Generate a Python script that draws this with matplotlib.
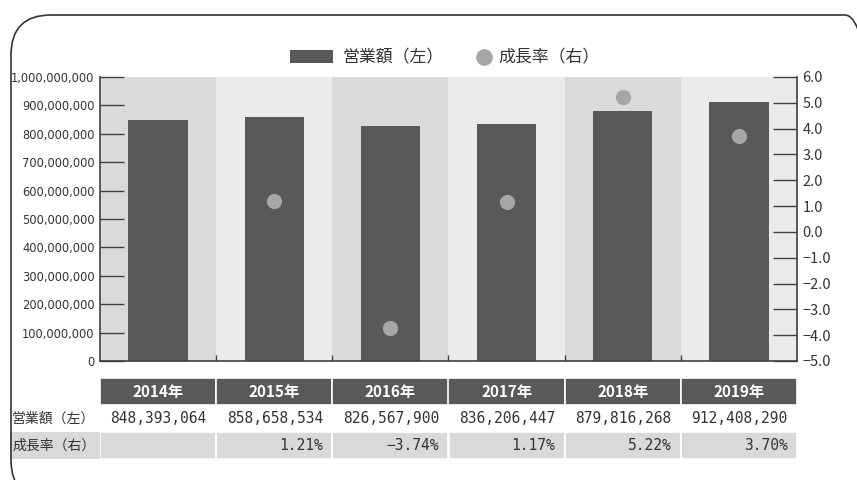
import matplotlib
matplotlib.use("Agg")
import matplotlib.pyplot as plt
from matplotlib.patches import FancyBboxPatch, Rectangle
from matplotlib.lines import Line2D
from matplotlib.ticker import FuncFormatter

plt.rcParams['font.family'] = ['Noto Sans CJK JP', 'DejaVu Sans']

years = ["2014年", "2015年", "2016年", "2017年", "2018年", "2019年"]
sales = [848393064, 858658534, 826567900, 836206447, 879816268, 912408290]
growth = [None, 1.21, -3.74, 1.17, 5.22, 3.70]
left_ticks = [0, 100000000, 200000000, 300000000, 400000000, 500000000,
              600000000, 700000000, 800000000, 900000000, 1000000000]
right_ticks = [-5.0, -4.0, -3.0, -2.0, -1.0, 0.0, 1.0, 2.0, 3.0, 4.0, 5.0, 6.0]
label_sales = "営業額（左）"
label_growth = "成長率（右）"

BAR = "#595959"
DOT = "#a6a6a6"
BAND_D = "#dadada"
BAND_L = "#ebebeb"
SPINE = "#404040"
TXT = "#333333"

W, H = 857, 480
fig = plt.figure(figsize=(W / 100, H / 100), dpi=100)

# rounded frame
frame = FancyBboxPatch((11, -20), 874, 480 - 15 + 20,
                       boxstyle="round,pad=0,rounding_size=40",
                       transform=None, fill=False, edgecolor="#333333", linewidth=1.2)
fig.patches.append(frame)

L, R, T, B = 100, 797, 77, 361
ax = fig.add_axes([L / W, 1 - B / H, (R - L) / W, (B - T) / H])
n = len(years)
xs = list(range(n))
for i in xs:
    ax.axvspan(i - 0.5, i + 0.5, color=BAND_D if i % 2 == 0 else BAND_L, zorder=0, lw=0)
bars = ax.bar(xs, sales, width=0.51, color=BAR, zorder=2, label=label_sales)
ax.set_xlim(-0.5, n - 0.5)
ax.set_ylim(0, 1000000000)
ax.set_yticks(left_ticks)
ax.yaxis.set_major_formatter(FuncFormatter(lambda v, p: f"{int(v):,}"))
ax.tick_params(axis='y', direction='in', length=17, width=1, color=SPINE,
               labelsize=8.3, labelcolor=TXT, pad=4)
for lab in ax.get_yticklabels():
    lab.set_family('DejaVu Sans')
ax.set_xticks([i + 0.5 for i in xs[:-1]])
ax.set_xticklabels([])
ax.tick_params(axis='x', direction='in', length=4, width=1, color=SPINE)
for s in ["top", "right"]:
    ax.spines[s].set_visible(False)
for s in ["left", "bottom"]:
    ax.spines[s].set_color(SPINE)
    ax.spines[s].set_linewidth(1.2)

ax2 = ax.twinx()
gx = [x for x, g in zip(xs, growth) if g is not None]
gy = [g for g in growth if g is not None]
ax2.scatter(gx, gy, s=120, color=DOT, zorder=3, label=label_growth, linewidths=0)
ax2.set_ylim(-5, 6)
ax2.set_yticks(right_ticks)
ax2.yaxis.set_major_formatter(FuncFormatter(lambda v, p: f"{v:.1f}".replace("-", "−")))
ax2.tick_params(axis='y', direction='in', length=17, width=1, color=SPINE,
                labelsize=10.5, labelcolor=TXT, pad=4)
for s in ["top", "left", "bottom"]:
    ax2.spines[s].set_visible(False)
ax2.spines["right"].set_color(SPINE)
ax2.spines["right"].set_linewidth(1.2)
ax2.set_xlim(-0.5, n - 0.5)

# legend (manual placement)
fig.add_artist(Rectangle((290 / W, 1 - 63 / H), 43 / W, 13 / H, transform=fig.transFigure,
                         facecolor=BAR, edgecolor="none"))
fig.text(342 / W, 1 - 57 / H, label_sales, ha="left", va="center", fontsize=12.2, color=TXT)
fig.add_artist(Line2D([484 / W], [1 - 57 / H], transform=fig.transFigure, marker='o',
                      markersize=11, markerfacecolor=DOT, markeredgecolor=DOT, linestyle='none'))
fig.text(498 / W, 1 - 57 / H, label_growth, ha="left", va="center", fontsize=12.2, color=TXT)

# table
TT, TB = 378, 459
axt = fig.add_axes([L / W, 1 - TB / H, (R - L) / W, (TB - TT) / H])
axt.set_xlim(-0.5, n - 0.5)
axt.set_ylim(0, 3)
axt.axis("off")
unit = (R - L) / n
for i, y in enumerate(years):
    axt.add_patch(Rectangle((i - 0.5, 2.0), 1.0, 1.0, facecolor=BAR, edgecolor="white", lw=1.2))
    axt.text(i, 2.5, y, ha="center", va="center", color="white", fontsize=11, fontweight="bold")
axt.add_patch(Rectangle((-0.5 - 90 / unit, 0.0), n + 90 / unit, 1.0,
                        facecolor="#d9d9d9", edgecolor="none", clip_on=False))
for i in xs:
    axt.add_patch(Rectangle((i - 0.5, 0.0), 1.0, 1.0, facecolor="none", edgecolor="white", lw=1.2))
    axt.text(i + 0.42, 1.5, f"{sales[i]:,}", ha="right", va="center",
             fontsize=10.5, family="DejaVu Sans Mono", color=TXT)
    if growth[i] is not None:
        axt.text(i + 0.42, 0.5, f"{growth[i]:.2f}%".replace("-", "−"), ha="right", va="center",
                 fontsize=10.5, family="DejaVu Sans Mono", color=TXT)
lx = -0.5 - 88 / unit
axt.text(lx, 1.5, label_sales, ha="left", va="center", fontsize=10, color=TXT, clip_on=False)
axt.text(lx, 0.5, label_growth, ha="left", va="center", fontsize=10, color=TXT, clip_on=False)

fig.savefig("out.png", dpi=100)
